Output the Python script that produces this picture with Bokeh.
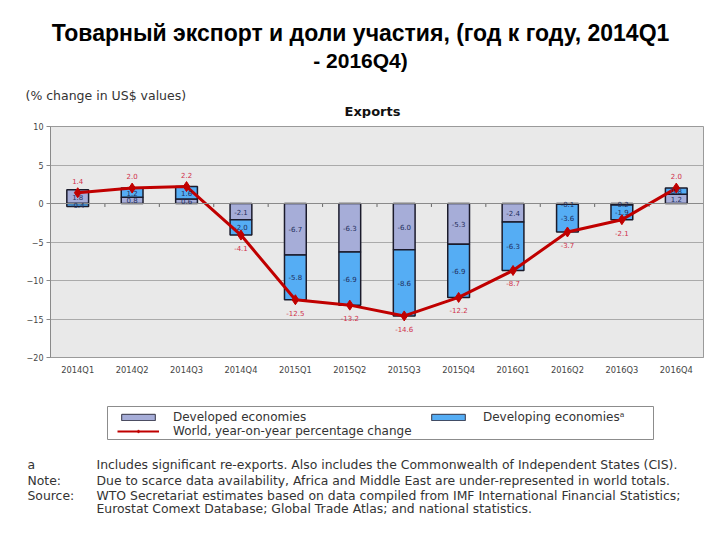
import numpy as np
from bokeh.plotting import figure
from bokeh.layouts import column
from bokeh.models import (ColumnDataSource, Range1d, FactorRange, Label, LabelSet,
                          Legend, LegendItem, Span, FixedTicker, BoxAnnotation)
from bokeh.transform import dodge
from bokeh.core.properties import value
from bokeh.embed import file_html
from bokeh.resources import INLINE

# ---------------- data ----------------
quarters = ["2014Q1", "2014Q2", "2014Q3", "2014Q4",
            "2015Q1", "2015Q2", "2015Q3", "2015Q4",
            "2016Q1", "2016Q2", "2016Q3", "2016Q4"]
developed = [1.8, 0.8, 0.6, -2.1, -6.7, -6.3, -6.0, -5.3, -2.4, -0.1, -0.2, 1.2]
developing = [-0.4, 1.2, 1.6, -2.0, -5.8, -6.9, -8.6, -6.9, -6.3, -3.6, -1.9, 0.8]
world = [1.4, 2.0, 2.2, -4.1, -12.5, -13.2, -14.6, -12.2, -8.7, -3.7, -2.1, 2.0]
y_ticks = [-20, -15, -10, -5, 0, 5, 10]

title_line1 = "Товарный экспорт и доли участия, (год к году, 2014Q1"
title_line2 = "- 2016Q4)"
subtitle = "(% change in US$ values)"
chart_title = "Exports"
legend_labels = ["Developed economies", "Developing economiesᵃ",
                 "World, year-on-year percentage change"]
notes = [
    ("a", "Includes significant re-exports. Also includes the Commonwealth of Independent States (CIS)."),
    ("Note:", "Due to scarce data availability, Africa and Middle East are under-represented in world totals."),
    ("Source:", "WTO Secretariat estimates based on data compiled from IMF International Financial Statistics;"),
    ("", "Eurostat Comext Database; Global Trade Atlas; and national statistics."),
]

# ---------------- derived stacking ----------------
dev = np.array(developed)
dvg = np.array(developing)
base = np.where(np.sign(dev) == np.sign(dvg), dev, 0.0)
wld = np.array(world)

src = ColumnDataSource(dict(
    q=quarters,
    dev_top=dev, dev_bot=np.zeros_like(dev),
    dvg_top=base + dvg, dvg_bot=base,
    dev_mid=dev / 2, dvg_mid=base + dvg / 2,
    dev_txt=[f"{v:.1f}" for v in dev],
    dvg_txt=[f"{v:.1f}" for v in dvg],
    world=wld,
    w_txt=[f"{v:.1f}" for v in wld],
    w_off=np.where(wld >= 0, 12, -13),
))
tick_src = ColumnDataSource(dict(q=quarters[:-1]))

FONT = "DejaVu Sans"
W = 712
DEV_COLOR = "#a6add8"
DVG_COLOR = "#55adf4"
BAR_LINE = "#1b1b2b"
WORLD_COLOR = "#c00000"


def no_align(f):
    try:
        f.frame_align = False
    except Exception:
        pass


def text_fig(h):
    f = figure(width=W, height=h, output_backend="svg", toolbar_location=None,
               x_range=Range1d(0, W), y_range=Range1d(h, 0),
               x_axis_type=None, y_axis_type=None, min_border=0)
    f.grid.visible = False
    f.outline_line_color = None
    f.background_fill_color = "white"
    f.border_fill_color = "white"
    no_align(f)
    return f


def add_text(f, x, y, txt, size, bold=False, align="left", font=FONT, color="#222222"):
    f.add_layout(Label(x=x, y=y, text=txt, text_font=font, text_font_size=size,
                       text_font_style="bold" if bold else "normal",
                       text_color=color, text_align=align, text_baseline="middle"))


# ---------------- top text block ----------------
top = text_fig(118)
add_text(top, 360, 32, title_line1, "23px", bold=True, align="center", font="Liberation Sans", color="black")
add_text(top, 360, 60, title_line2, "21px", bold=True, align="center", font="Liberation Sans", color="black")
add_text(top, 25, 95, subtitle, "12.5px", color="#333333")
add_text(top, 372, 111, chart_title, "13px", bold=True, color="#111111", align="center")

# ---------------- main chart ----------------
p = figure(width=W, height=269, output_backend="svg", toolbar_location=None,
           x_range=FactorRange(*quarters, range_padding=0),
           y_range=Range1d(-20, 10),
           min_border_left=50, min_border_right=9, min_border_top=8,
           min_border_bottom=30, frame_width=653, frame_height=231)
no_align(p)

p.background_fill_color = "#e9e9e9"
p.border_fill_color = "white"
p.outline_line_color = "#9a9a9a"
p.xgrid.grid_line_color = None
p.ygrid.grid_line_color = "#aaaaaa"
p.ygrid.ticker = FixedTicker(ticks=y_ticks)

p.yaxis.ticker = FixedTicker(ticks=y_ticks)
p.yaxis.axis_line_color = "#8a8a8a"
p.yaxis.major_tick_line_color = "#8a8a8a"
p.yaxis.major_tick_out = 4
p.yaxis.major_tick_in = 0
p.yaxis.minor_tick_line_color = None
p.yaxis.major_label_text_font = FONT
p.yaxis.major_label_text_font_size = "8px"
p.yaxis.major_label_text_color = "#444444"
p.yaxis.major_label_standoff = 3

p.xaxis.axis_line_color = "#9a9a9a"
p.xaxis.major_tick_line_color = None
p.xaxis.major_tick_out = 0
p.xaxis.major_label_text_font = FONT
p.xaxis.major_label_text_font_size = "8.3px"
p.xaxis.major_label_text_color = "#444444"
p.xaxis.major_label_standoff = 7

p.add_layout(Span(location=0, dimension="width", line_color="#8a8a8a", line_width=1))

p.segment(x0=dodge("q", 0.5, range=p.x_range), y0=0,
          x1=dodge("q", 0.5, range=p.x_range), y1=-0.45,
          source=tick_src, line_color="#666666", line_width=1)

p.vbar(x="q", width=0.4, top="dev_top", bottom="dev_bot", source=src,
       fill_color=DEV_COLOR, line_color=BAR_LINE, line_width=1.5)
p.vbar(x="q", width=0.4, top="dvg_top", bottom="dvg_bot", source=src,
       fill_color=DVG_COLOR, line_color=BAR_LINE, line_width=1.5)

lbl_kw = dict(text_font=value(FONT), text_font_size="7px", text_color="#1f2d5c",
              text_align="center", text_baseline="middle")
p.add_layout(LabelSet(x="q", y="dev_mid", text="dev_txt", source=src, **lbl_kw))
p.add_layout(LabelSet(x="q", y="dvg_mid", text="dvg_txt", source=src, **lbl_kw))

p.line(x="q", y="world", source=src, line_color=WORLD_COLOR, line_width=3)
p.scatter(x="q", y="world", source=src, marker="diamond", size=10,
          fill_color=WORLD_COLOR, line_color=WORLD_COLOR)
p.add_layout(LabelSet(x="q", y="world", text="w_txt", source=src, y_offset="w_off",
                      text_font=value(FONT), text_font_size="7px", text_color="#d0304a",
                      text_align="center", text_baseline="middle"))

# ---------------- bottom block: legend + notes ----------------
bot = text_fig(145)
proxy = ColumnDataSource(dict(x=[np.nan], y=[np.nan], top=[np.nan]))
g_dev = bot.vbar(x="x", top="top", width=1, source=proxy,
                 fill_color=DEV_COLOR, line_color="#333344", line_width=1)
g_dvg = bot.vbar(x="x", top="top", width=1, source=proxy,
                 fill_color=DVG_COLOR, line_color="#333344", line_width=1)
g_line = bot.line(x="x", y="y", source=proxy, line_color=WORLD_COLOR, line_width=2)
g_pts = bot.scatter(x="x", y="y", source=proxy, marker="diamond", size=10,
                    fill_color=WORLD_COLOR, line_color=WORLD_COLOR)

# legend frame (decoration)
bot.add_layout(BoxAnnotation(left=107, right=653, top=19, bottom=52,
                             fill_alpha=0, line_color="#8c8c8c", line_alpha=1,
                             line_width=1))

legend = Legend(items=[
    LegendItem(label=legend_labels[0], renderers=[g_dev]),
    LegendItem(label=legend_labels[1], renderers=[g_dvg]),
    LegendItem(label=legend_labels[2], renderers=[g_line, g_pts]),
], location=(117, 94), orientation="horizontal", ncols=2,
    glyph_width=42, glyph_height=8, label_standoff=14, label_height=12,
    label_width=254, padding=4, spacing=0, margin=0,
    label_text_font=FONT, label_text_font_size="12px", label_text_color="#333333",
    border_line_color=None, background_fill_alpha=0)
bot.add_layout(legend, "center")

note_y = [77, 93, 108, 121]
for (tag, body), yy in zip(notes, note_y):
    if tag:
        add_text(bot, 27, yy, tag, "12.4px", color="#333333")
    add_text(bot, 96, yy, body, "12.4px", color="#333333")

layout = column(top, p, bot, spacing=0)
open("out.html", "w").write(file_html(layout, INLINE))
